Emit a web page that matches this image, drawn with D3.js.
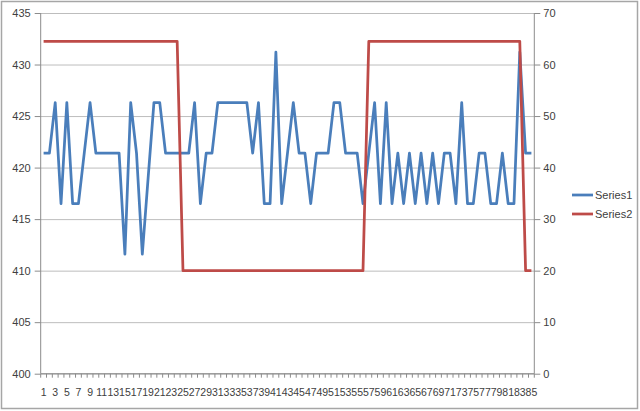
<!DOCTYPE html>
<html>
<head>
<meta charset="utf-8">
<script src="https://cdn.jsdelivr.net/npm/d3@7"></script>
<style>
  body { margin: 0; background: #fff; }
  text { font-family: "Liberation Sans", Arial, sans-serif; fill: #404040; }
</style>
</head>
<body>
<div id="chart"></div>
<script>
// categories 1..85
var categories = d3.range(1, 86);

var series1 = [
  421.4, 421.4, 426.3, 416.5, 426.3, 416.5, 416.5, 421.4, 426.3, 421.4,
  421.4, 421.4, 421.4, 421.4, 411.6, 426.3, 421.4, 411.6, 419.0, 426.3,
  426.3, 421.4, 421.4, 421.4, 421.4, 421.4, 426.3, 416.5, 421.4, 421.4,
  426.3, 426.3, 426.3, 426.3, 426.3, 426.3, 421.4, 426.3, 416.5, 416.5,
  431.2, 416.5, 421.4, 426.3, 421.4, 421.4, 416.5, 421.4, 421.4, 421.4,
  426.3, 426.3, 421.4, 421.4, 421.4, 416.5, 421.4, 426.3, 416.5, 426.3,
  416.5, 421.4, 416.5, 421.4, 416.5, 421.4, 416.5, 421.4, 416.5, 421.4,
  421.4, 416.5, 426.3, 416.5, 416.5, 421.4, 421.4, 416.5, 416.5, 421.4,
  416.5, 416.5, 431.2, 421.4, 421.4
];

var series2 = [
  64.5, 64.5, 64.5, 64.5, 64.5, 64.5, 64.5, 64.5, 64.5, 64.5,
  64.5, 64.5, 64.5, 64.5, 64.5, 64.5, 64.5, 64.5, 64.5, 64.5,
  64.5, 64.5, 64.5, 64.5, 20, 20, 20, 20, 20, 20,
  20, 20, 20, 20, 20, 20, 20, 20, 20, 20,
  20, 20, 20, 20, 20, 20, 20, 20, 20, 20,
  20, 20, 20, 20, 20, 20, 64.5, 64.5, 64.5, 64.5,
  64.5, 64.5, 64.5, 64.5, 64.5, 64.5, 64.5, 64.5, 64.5, 64.5,
  64.5, 64.5, 64.5, 64.5, 64.5, 64.5, 64.5, 64.5, 64.5, 64.5,
  64.5, 64.5, 64.5, 20, 20
];

var leftTicks = [400, 405, 410, 415, 420, 425, 430, 435];
var rightTicks = [0, 10, 20, 30, 40, 50, 60, 70];
var seriesNames = ['Series1', 'Series2'];
var seriesColors = ['#4a7ebb', '#be4b48'];

var width = 640,
    height = 411,
    plotLeft = 40.7,
    plotRight = 534.3,
    plotTop = 13,
    plotBottom = 373.7;

var svg = d3.select('#chart').append('svg')
    .attr('width', width)
    .attr('height', height);

// chart frame
svg.append('rect')
    .attr('x', 1.5).attr('y', 1.5)
    .attr('width', 636).attr('height', 407)
    .attr('fill', 'none')
    .attr('stroke', '#a6a6a6')
    .attr('stroke-width', 1.5);

var xScale = d3.scaleBand()
    .domain(categories)
    .range([plotLeft, plotRight]);

var yLeft = d3.scaleLinear()
    .domain([400, 435])
    .range([plotBottom, plotTop]);

var yRight = d3.scaleLinear()
    .domain([0, 70])
    .range([plotBottom, plotTop]);

function cx(d) { return xScale(d) + xScale.bandwidth() / 2; }

// gridlines
svg.append('g')
    .attr('transform', 'translate(' + plotLeft + ',0)')
    .call(d3.axisLeft(yLeft).tickValues(leftTicks).tickSize(-(plotRight - plotLeft)).tickFormat(''))
    .call(function(g){
        g.select('.domain').remove();
        g.selectAll('line').attr('stroke', '#bdbdbd');
    });

// left axis
svg.append('g')
    .attr('transform', 'translate(' + plotLeft + ',0)')
    .call(d3.axisLeft(yLeft).tickValues(leftTicks).tickSize(6).tickPadding(4))
    .call(function(g){
        g.select('.domain').attr('stroke', '#8c8c8c').attr('d', 'M0,' + plotTop + 'V' + plotBottom);
        g.selectAll('line').attr('stroke', '#8c8c8c');
        g.selectAll('text').style('font-size', '11px').attr('fill', '#404040');
    });

// right axis
svg.append('g')
    .attr('transform', 'translate(' + plotRight + ',0)')
    .call(d3.axisRight(yRight).tickValues(rightTicks).tickSize(6).tickPadding(3))
    .call(function(g){
        g.select('.domain').attr('stroke', '#8c8c8c').attr('d', 'M0,' + plotTop + 'V' + plotBottom);
        g.selectAll('line').attr('stroke', '#8c8c8c');
        g.selectAll('text').style('font-size', '11px').attr('fill', '#404040');
    });

// x axis line
svg.append('line')
    .attr('x1', plotLeft).attr('x2', plotRight)
    .attr('y1', plotBottom).attr('y2', plotBottom)
    .attr('stroke', '#8c8c8c');

// x tick marks between categories
svg.append('g').selectAll('line')
    .data(categories.concat(['end']))
    .enter().append('line')
    .attr('x1', function(d){ return d === 'end' ? plotRight : xScale(d); })
    .attr('x2', function(d){ return d === 'end' ? plotRight : xScale(d); })
    .attr('y1', plotBottom).attr('y2', plotBottom + 4)
    .attr('stroke', '#8c8c8c');

// x labels, every other
svg.append('g').selectAll('text')
    .data(categories.filter(function(d){ return d % 2 === 1; }))
    .enter().append('text')
    .attr('x', cx)
    .attr('y', plotBottom + 22)
    .attr('text-anchor', 'middle')
    .style('font-size', '10.5px')
    .text(function(d){ return d; });

// lines
var line1 = d3.line()
    .x(function(d, i){ return cx(categories[i]); })
    .y(function(d){ return yLeft(d); });

var line2 = d3.line()
    .x(function(d, i){ return cx(categories[i]); })
    .y(function(d){ return yRight(d); });

svg.append('path')
    .datum(series1)
    .attr('d', line1)
    .attr('fill', 'none')
    .attr('stroke', seriesColors[0])
    .attr('stroke-width', 2.75)
    .attr('stroke-linejoin', 'round');

svg.append('path')
    .datum(series2)
    .attr('d', line2)
    .attr('fill', 'none')
    .attr('stroke', seriesColors[1])
    .attr('stroke-width', 2.75)
    .attr('stroke-linejoin', 'round');

// legend
var legend = svg.append('g').selectAll('g')
    .data(seriesNames)
    .enter().append('g')
    .attr('transform', function(d, i){ return 'translate(572,' + (195 + i * 19) + ')'; });

legend.append('line')
    .attr('x1', 0).attr('x2', 21)
    .attr('stroke', function(d, i){ return seriesColors[i]; })
    .attr('stroke-width', 2.75);

legend.append('text')
    .attr('x', 23).attr('y', 4)
    .style('font-size', '11px')
    .text(function(d){ return d; });
</script>
</body>
</html>
